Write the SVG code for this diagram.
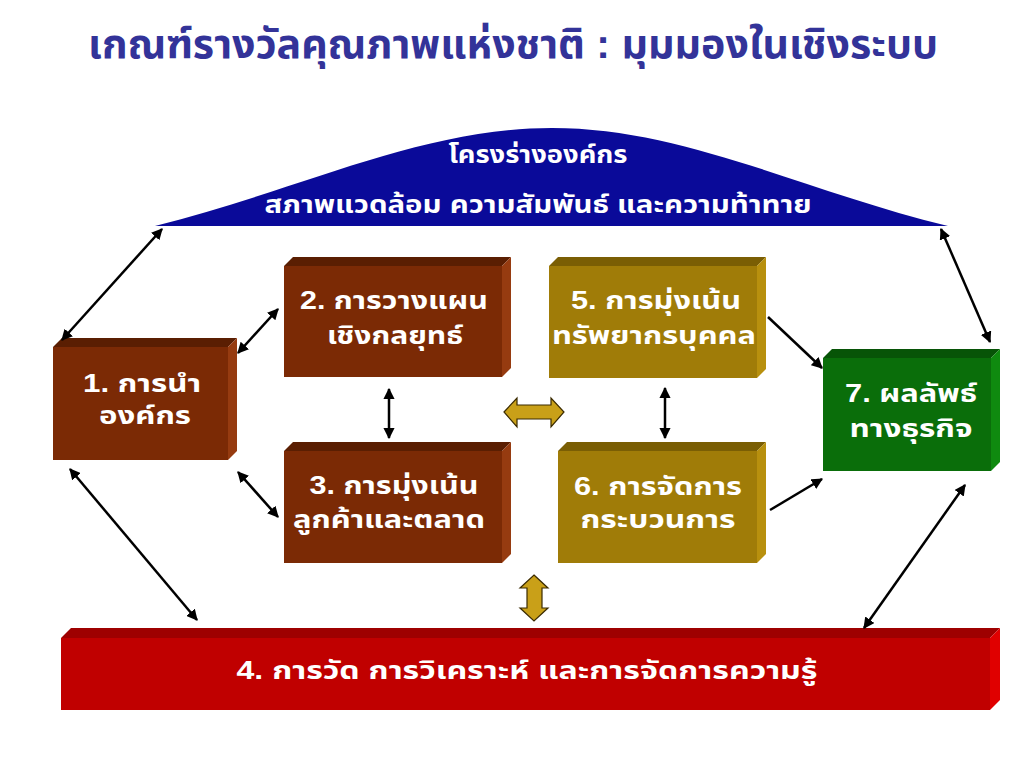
<svg xmlns="http://www.w3.org/2000/svg" width="1024" height="768" viewBox="0 0 1024 768">
<defs>
<style>
.t{font-family:"Liberation Sans","Noto Sans Thai","Noto Sans",Tahoma,sans-serif;font-weight:bold;fill:#ffffff;text-anchor:middle;font-size:25px}
.title{font-family:"Liberation Sans","Noto Sans Thai","Noto Sans",Tahoma,sans-serif;font-weight:bold;fill:#333399;text-anchor:middle;font-size:40px}
.ln{stroke:#000;stroke-width:2.5;fill:none}
.gold{fill:#C9A018;stroke:#3a2a00;stroke-width:1.2}
</style>
<marker id="ah" viewBox="0 0 10 10" refX="9" refY="5" markerWidth="4.5" markerHeight="4.5" orient="auto-start-reverse">
<path d="M0,0 L10,5 L0,10 z" fill="#000"/>
</marker>
</defs>
<rect width="1024" height="768" fill="#ffffff"/>
<text class="title" x="513" y="58" textLength="850" lengthAdjust="spacingAndGlyphs">เกณฑ์รางวัลคุณภาพแห่งชาติ : มุมมองในเชิงระบบ</text>

<g id="arc">
<path d="M155,226 C300,190 420,128 552,128 C684,128 800,190 948,226 Z" fill="#0A0A99"/>
<text class="t" x="538" y="163" textLength="179" lengthAdjust="spacingAndGlyphs">โครงร่างองค์กร</text>
<text class="t" x="538" y="213" textLength="547" lengthAdjust="spacingAndGlyphs">สภาพแวดล้อม ความสัมพันธ์ และความท้าทาย</text>
</g>

<g id="node1">
<rect x="53" y="347" width="175" height="113" fill="#7B2A05"/>
<polygon points="53,347 62,338 237,338 228,347" fill="#5A1E02"/>
<polygon points="228,347 237,338 237,451 228,460" fill="#963B10"/>
<text class="t" x="142" y="392" textLength="118" lengthAdjust="spacingAndGlyphs">1. การนำ</text>
<text class="t" x="145" y="424" textLength="92" lengthAdjust="spacingAndGlyphs">องค์กร</text>
</g>

<g id="node2">
<rect x="284" y="266" width="218" height="111" fill="#7B2A05"/>
<polygon points="284,266 293,257 511,257 502,266" fill="#5A1E02"/>
<polygon points="502,266 511,257 511,368 502,377" fill="#963B10"/>
<text class="t" x="394" y="309" textLength="188" lengthAdjust="spacingAndGlyphs">2. การวางแผน</text>
<text class="t" x="395" y="344" textLength="136" lengthAdjust="spacingAndGlyphs">เชิงกลยุทธ์</text>
</g>

<g id="node3">
<rect x="284" y="451" width="218" height="112" fill="#7B2A05"/>
<polygon points="284,451 293,442 511,442 502,451" fill="#5A1E02"/>
<polygon points="502,451 511,442 511,554 502,563" fill="#963B10"/>
<text class="t" x="394" y="494" textLength="169" lengthAdjust="spacingAndGlyphs">3. การมุ่งเน้น</text>
<text class="t" x="389" y="528" textLength="192" lengthAdjust="spacingAndGlyphs">ลูกค้าและตลาด</text>
</g>

<g id="node5">
<rect x="549" y="266" width="208" height="112" fill="#A07C08"/>
<polygon points="549,266 558,257 766,257 757,266" fill="#7A5E04"/>
<polygon points="757,266 766,257 766,369 757,378" fill="#B8900E"/>
<text class="t" x="656" y="309" textLength="170" lengthAdjust="spacingAndGlyphs">5. การมุ่งเน้น</text>
<text class="t" x="654" y="344" textLength="204" lengthAdjust="spacingAndGlyphs">ทรัพยากรบุคคล</text>
</g>

<g id="node6">
<rect x="558" y="451" width="199" height="112" fill="#A07C08"/>
<polygon points="558,451 567,442 766,442 757,451" fill="#7A5E04"/>
<polygon points="757,451 766,442 766,554 757,563" fill="#B8900E"/>
<text class="t" x="658" y="495" textLength="168" lengthAdjust="spacingAndGlyphs">6. การจัดการ</text>
<text class="t" x="658" y="528" textLength="155" lengthAdjust="spacingAndGlyphs">กระบวนการ</text>
</g>

<g id="node7">
<rect x="823" y="358" width="168" height="113" fill="#0A6E0A"/>
<polygon points="823,358 832,349 1000,349 991,358" fill="#075407"/>
<polygon points="991,358 1000,349 1000,462 991,471" fill="#0F8A0F"/>
<text class="t" x="911" y="402" textLength="132" lengthAdjust="spacingAndGlyphs">7. ผลลัพธ์</text>
<text class="t" x="911" y="437" textLength="123" lengthAdjust="spacingAndGlyphs">ทางธุรกิจ</text>
</g>

<g id="node4">
<rect x="61" y="638" width="929" height="72" fill="#C00000"/>
<polygon points="61,638 71,628 1000,628 990,638" fill="#9E0000"/>
<polygon points="990,638 1000,628 1000,700 990,710" fill="#E00000"/>
<text class="t" x="527" y="679" textLength="581" lengthAdjust="spacingAndGlyphs">4. การวัด การวิเคราะห์ และการจัดการความรู้</text>
</g>

<g id="connectors">
<line class="ln" x1="62" y1="340" x2="162" y2="229" marker-start="url(#ah)" marker-end="url(#ah)"/>
<line class="ln" x1="238" y1="353" x2="278" y2="309" marker-start="url(#ah)" marker-end="url(#ah)"/>
<line class="ln" x1="238" y1="472" x2="278" y2="517" marker-start="url(#ah)" marker-end="url(#ah)"/>
<line class="ln" x1="70" y1="469" x2="197" y2="620" marker-start="url(#ah)" marker-end="url(#ah)"/>
<line class="ln" x1="389" y1="389" x2="389" y2="438" marker-start="url(#ah)" marker-end="url(#ah)"/>
<line class="ln" x1="665" y1="388" x2="665" y2="438" marker-start="url(#ah)" marker-end="url(#ah)"/>
<line class="ln" x1="768" y1="317" x2="822" y2="368" marker-end="url(#ah)"/>
<line class="ln" x1="770" y1="510" x2="822" y2="479" marker-end="url(#ah)"/>
<line class="ln" x1="941" y1="229" x2="990" y2="342" marker-start="url(#ah)" marker-end="url(#ah)"/>
<line class="ln" x1="965" y1="485" x2="864" y2="628" marker-start="url(#ah)" marker-end="url(#ah)"/>
<polygon class="gold" points="504,412 517,398 517,405 551,405 551,398 564,412 551,427 551,419 517,419 517,427"/>
<polygon class="gold" points="534,575 548,588 542,588 542,608 548,608 534,621 520,608 527,608 527,588 520,588"/>
</g>
</svg>
